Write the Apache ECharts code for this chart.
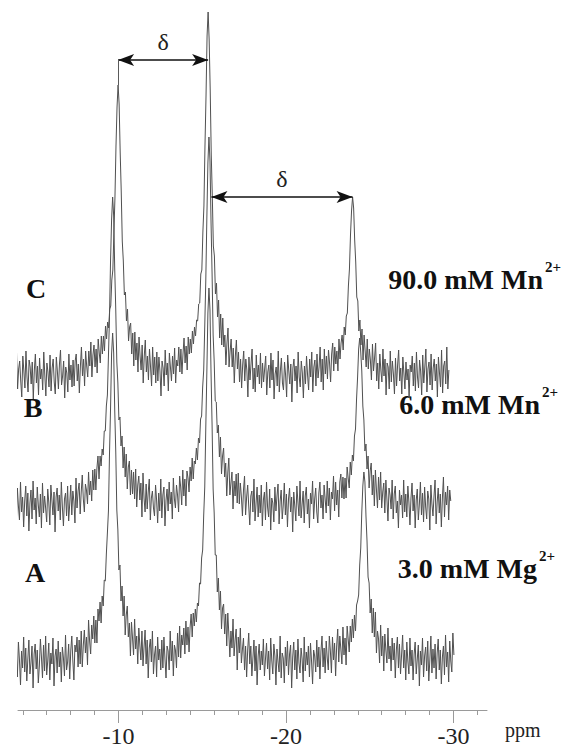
<!DOCTYPE html>
<html><head><meta charset="utf-8">
<script src="https://cdn.jsdelivr.net/npm/echarts@6/dist/echarts.min.js"></script>
<style>html,body{margin:0;padding:0;background:#fff}#chart{width:573px;height:752px}</style>
</head><body><div id="chart"></div>
<script>
// spectra sampled every 0.0625 ppm (going upfield), intensities in arbitrary units
const ppmStep = -0.0625;
const startA = -3.9, startB = -3.4, startC = -3.6;

const traceA = [
 8,-14,21,3,-22,12,-5,26,-9,15,-18,4,23,-11,0,17,-25,9,19,-6,
 13,-20,-3,24,6,-15,18,-8,27,-12,2,20,-17,10,-1,25,-23,7,14,-10,
 22,-4,11,-19,16,5,-13,28,-7,1,19,-16,12,27,2,-17,18,11,26,-4,
 23,-1,32,-4,18,33,10,26,-2,43,22,9,38,24,47,20,43,20,54,42,
 61,40,67,57,83,82,109,130,152,209,254,309,330,310,253,211,153,133,93,98,
 62,77,47,67,28,48,57,26,40,7,41,25,8,44,14,27,-1,35,18,3,
 32,-3,16,33,-1,23,-15,15,24,1,32,-11,8,17,-14,26,3,14,-7,23,
 -5,26,4,-15,17,12,-7,32,2,22,-13,18,13,-5,30,6,37,5,28,18,
 35,9,42,18,36,11,36,49,26,50,37,54,41,60,57,80,79,105,113,148,
 176,236,291,350,375,353,290,238,174,150,108,108,71,85,53,72,34,55,59,29,
 49,17,50,29,6,32,15,44,7,23,34,-7,26,10,35,0,14,25,-7,17,
 -14,13,30,-1,17,-13,5,23,-8,17,-22,7,19,-7,12,-2,24,-13,4,20,
 -6,12,-17,25,3,-11,19,7,-22,14,1,-9,27,-15,10,5,-20,16,-3,22,
 -12,9,18,-25,6,21,-7,13,-16,24,0,-10,15,4,-19,26,-8,11,-2,17,
 -14,20,2,-21,13,7,-9,23,-4,16,-16,12,27,-4,15,-10,22,5,-7,27,
 12,-10,26,3,20,-13,17,34,1,27,14,-1,36,8,25,-2,37,24,11,37,
 21,44,25,48,32,58,62,68,98,115,151,177,191,181,147,122,86,80,50,64,
 30,55,26,51,10,32,24,0,38,7,27,-8,29,13,0,35,4,17,-8,25,
 3,20,-15,13,26,-5,19,-11,8,28,-5,13,-17,21,2,-11,25,-3,13,-17,
 9,21,-11,4,18,-23,12,-2,25,-14,7,16,-8,22,-18,3,27,-10,14,-5,
 19,-16,10,24,-7,13,-21,6,17,-12,28,-4,11,-19,22,2,-9,30,8
];
const traceB = [
 -10,17,4,-21,13,24,-6,9,-15,20,2,-12,26,-4,11,-19,7,22,-8,15,
 -23,5,18,-11,27,-2,10,-16,21,3,-9,14,-20,25,-5,12,0,-14,19,6,
 -17,23,8,-7,16,-24,11,20,-3,13,-12,26,1,-18,9,15,-8,22,-13,4,
 23,-7,17,7,-15,30,0,17,25,-6,16,33,9,-4,24,18,4,36,13,27,
 7,38,18,39,18,40,52,29,52,42,59,53,77,77,102,113,152,191,247,288,
 311,292,239,198,146,125,88,91,62,72,40,61,31,54,19,41,47,13,38,14,
 36,9,39,1,23,32,8,25,-9,35,10,-4,24,-1,16,29,-12,10,17,0,
 -8,23,8,-15,15,-3,29,-10,13,21,-18,8,19,-3,26,4,16,-11,30,9,
 0,23,13,-4,32,21,3,38,12,29,2,37,30,16,41,27,50,29,47,44,
 60,48,70,65,89,92,121,138,182,228,290,345,371,347,286,234,173,147,107,106,
 75,83,51,71,34,52,60,31,45,12,35,50,13,25,36,-1,27,12,34,5,
 35,4,25,11,-8,18,32,-7,11,23,2,-17,12,17,-4,29,-13,5,21,-9,
 13,-5,23,-18,8,16,-12,26,1,-9,19,-22,10,5,-14,21,-3,12,24,-16,
 7,18,-11,3,25,-7,14,-19,9,20,-4,11,-24,16,2,-13,22,6,-8,27,
 -10,4,17,-15,12,21,-6,9,-20,15,4,27,-11,9,20,-4,-15,15,26,0,
 13,-11,23,9,-5,27,2,20,-12,16,9,32,-3,26,3,18,-9,26,34,10,
 31,9,30,10,41,30,20,46,33,53,47,72,79,109,131,159,170,156,137,102,
 88,57,64,39,52,20,37,45,13,33,2,38,18,0,31,8,36,0,16,25,
 -5,28,9,-13,20,13,-1,28,-11,14,22,-5,7,-20,18,3,13,-10,28,-4,
 14,-9,22,6,-17,10,25,-3,13,-20,8,19,-12,4,26,-7,15,-14,21,1,
 -11,17,9,-22,23,4,-8,12,28,-16,6,20,-5,14,-19,10,31,-9,16,3,
 22,-12,18,7
];
const traceC = [
 14,-8,20,-15,5,25,-11,9,17,-3,-19,22,7,-10,27,1,-14,18,11,-6,
 16,-21,8,24,-5,12,-17,20,-1,9,-12,26,3,-18,15,6,-9,23,-13,10,
 19,-4,-16,21,7,-11,14,28,-7,2,17,-20,11,5,-14,24,-2,13,-9,18,
 -8,17,24,-3,14,-15,12,31,2,19,-8,27,12,1,27,12,36,1,23,33,
 11,29,5,39,25,15,42,24,42,27,52,39,56,50,69,72,98,108,145,180,
 232,271,293,274,226,187,137,117,83,86,57,69,37,51,55,24,45,12,46,18,
 35,6,41,22,8,33,-5,22,38,6,22,-2,29,11,-8,31,3,21,-5,26,
 -3,21,7,-18,17,10,-8,28,3,15,-13,25,11,-3,22,4,30,-5,18,12,
 31,6,29,4,24,40,15,32,8,41,24,39,25,47,34,51,42,58,57,74,
 75,104,108,146,172,232,282,342,366,338,288,223,182,132,122,84,95,61,78,40,
 64,33,60,31,43,13,35,50,11,27,39,11,30,-5,22,38,9,26,-4,19,
 -10,13,27,-3,19,8,-19,21,-2,14,29,-11,10,-14,23,1,13,-6,25,-10,
 15,-4,9,22,-17,6,13,-10,25,-2,18,-21,4,11,-8,27,-14,7,20,-5,
 -12,16,3,-19,23,8,-6,14,-24,10,19,-3,12,-15,26,1,-9,17,5,-20,
 12,-6,22,3,-12,19,1,26,-14,11,18,-8,24,0,11,31,-4,19,-12,29,
 4,22,-1,28,15,-4,24,35,7,31,14,27,7,39,19,35,43,28,51,43,
 62,65,92,109,143,167,181,170,138,116,81,77,47,58,33,49,18,43,27,11,
 39,9,29,18,-2,34,7,20,35,-3,15,-11,24,8,-4,29,2,19,-17,15,
 11,-11,27,-4,17,4,-16,20,-8,13,28,-3,10,-16,21,5,-11,16,-2,9,
 -20,13,6,22,-8,15,-13,26,1,-10,18,7,-17,23,-5,11,29,-14,9,16,
 -7,24,-12,10,19,-3,14,-19,21,5,-9,28,-15,12,17,-6,31,-11,8
];

const majorTicks = [-10, -20, -30];
const axisMin = -32, axisMax = -4;
const traceLabels = ['A', 'B', 'C'];
const conditions = ['3.0 mM Mg', '6.0 mM Mn', '90.0 mM Mn'];
const chargeSup = '2+';
const deltaArrows = [
  [[-9.975, 318], [-15.35, 318]],
  [[-15.55, 181], [-23.975, 181]]
];
const guideLine = [[-9.975, 318], [-9.975, 293]];

function toPairs(start, arr) { return arr.map((v, i) => [start + i * ppmStep, v]); }
const minorTicks = [];
for (let j = -4; j <= 15; j++) { const v = -10 - j * 10 / 7; if (v <= axisMax && v >= axisMin) minorTicks.push(v); }

const serif = '"Liberation Serif", "Times New Roman", serif';
const hiddenX = (g) => ({ gridIndex: g, type: 'value', min: axisMin, max: axisMax, inverse: true, show: false, splitLine: { show: false } });
const lineStyle = { color: '#505050', width: 1 };
const baseSeries = { type: 'line', showSymbol: false, symbol: 'none', clip: false, animation: false, lineStyle: lineStyle, silent: true };
const gridBase = { left: 18, right: 86, top: 0, containLabel: false, outerBoundsMode: 'none' };

const chart = echarts.init(document.getElementById('chart'), null, { renderer: 'svg' });
chart.setOption({
  animation: false,
  backgroundColor: '#fff',
  grid: [
    Object.assign({}, gridBase, { height: 428 }),
    Object.assign({}, gridBase, { height: 558 }),
    Object.assign({}, gridBase, { height: 710 })
  ],
  xAxis: [
    hiddenX(0), hiddenX(1),
    { gridIndex: 2, type: 'value', min: axisMin, max: axisMax, inverse: true, position: 'bottom',
      axisLine: { show: true, onZero: false, lineStyle: { color: '#9a9a9a', width: 1 } },
      axisTick: { show: true, customValues: majorTicks, length: 13, lineStyle: { color: '#9a9a9a' } },
      axisLabel: { show: true, customValues: majorTicks, margin: 14, fontFamily: serif, fontSize: 24, color: '#222' },
      splitLine: { show: false },
      name: 'ppm', nameLocation: 'start', nameGap: 18,
      nameTextStyle: { fontFamily: serif, fontSize: 20, color: '#222', verticalAlign: 'top', padding: [10, 0, 0, 0] } },
    { gridIndex: 2, type: 'value', min: axisMin, max: axisMax, inverse: true, position: 'bottom',
      axisLine: { show: false, onZero: false },
      axisTick: { show: true, customValues: minorTicks, length: 5, lineStyle: { color: '#9a9a9a' } },
      axisLabel: { show: false }, splitLine: { show: false } }
  ],
  yAxis: [
    { gridIndex: 0, type: 'value', min: -50, max: 378, show: false, splitLine: { show: false } },
    { gridIndex: 1, type: 'value', min: -50, max: 508, show: false, splitLine: { show: false } },
    { gridIndex: 2, type: 'value', min: -47, max: 663, show: false, splitLine: { show: false } }
  ],
  series: [
    Object.assign({}, baseSeries, { name: 'A', xAxisIndex: 2, yAxisIndex: 2, data: toPairs(startA, traceA) }),
    Object.assign({}, baseSeries, { name: 'B', xAxisIndex: 1, yAxisIndex: 1, data: toPairs(startB, traceB) }),
    Object.assign({}, baseSeries, { name: 'C', xAxisIndex: 0, yAxisIndex: 0, data: toPairs(startC, traceC),
      markLine: {
        silent: true, animation: false, symbol: ['arrow', 'arrow'], symbolSize: [9, 16],
        lineStyle: { color: '#111', width: 1.5, type: 'solid' },
        label: { show: true, position: 'middle', formatter: 'δ', fontFamily: serif, fontSize: 24, color: '#222', distance: 6 },
        data: deltaArrows.map(a => [{ coord: a[0] }, { coord: a[1] }]).concat([
          [{ coord: guideLine[0], symbol: 'none', lineStyle: { color: '#5a5a5a', width: 1, type: 'solid' }, label: { show: false } },
           { coord: guideLine[1], symbol: 'none' }]
        ])
      } })
  ],
  graphic: [
    { type: 'text', x: 36, y: 288, style: { text: traceLabels[2], font: 'bold 28px ' + serif, fill: '#111', align: 'center', verticalAlign: 'middle' } },
    { type: 'text', x: 33, y: 407, style: { text: traceLabels[1], font: 'bold 28px ' + serif, fill: '#111', align: 'center', verticalAlign: 'middle' } },
    { type: 'text', x: 35, y: 572, style: { text: traceLabels[0], font: 'bold 28px ' + serif, fill: '#111', align: 'center', verticalAlign: 'middle' } },
    { type: 'text', x: 543, y: 279, style: { text: conditions[2], font: 'bold 28px ' + serif, fill: '#111', align: 'right', verticalAlign: 'middle' } },
    { type: 'text', x: 545, y: 267, style: { text: chargeSup, font: 'bold 15px ' + serif, fill: '#111', align: 'left', verticalAlign: 'middle' } },
    { type: 'text', x: 540, y: 404, style: { text: conditions[1], font: 'bold 28px ' + serif, fill: '#111', align: 'right', verticalAlign: 'middle' } },
    { type: 'text', x: 542, y: 392, style: { text: chargeSup, font: 'bold 15px ' + serif, fill: '#111', align: 'left', verticalAlign: 'middle' } },
    { type: 'text', x: 537, y: 568, style: { text: conditions[0], font: 'bold 28px ' + serif, fill: '#111', align: 'right', verticalAlign: 'middle' } },
    { type: 'text', x: 539, y: 556, style: { text: chargeSup, font: 'bold 15px ' + serif, fill: '#111', align: 'left', verticalAlign: 'middle' } }
  ]
});
</script></body></html>
